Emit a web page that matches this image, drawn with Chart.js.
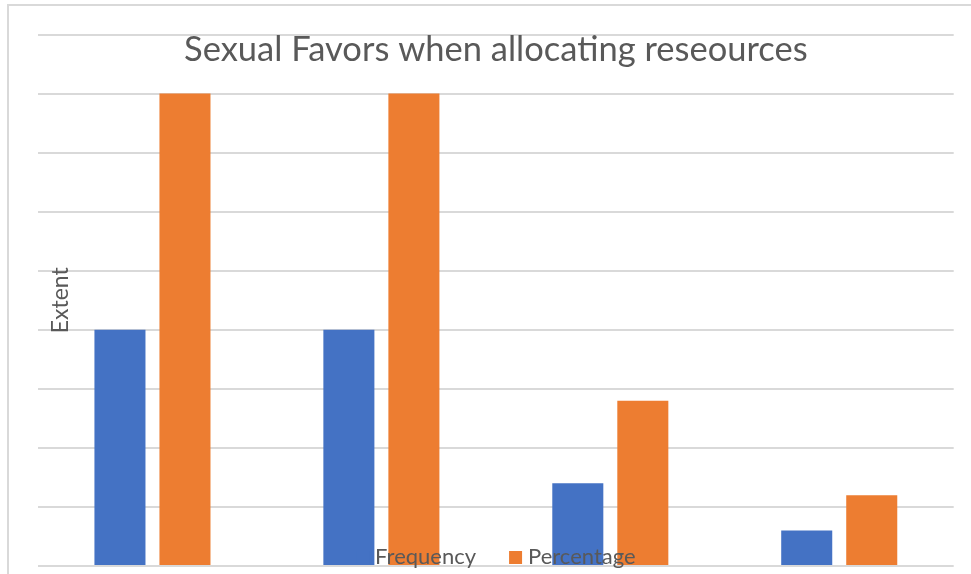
<!DOCTYPE html>
<html>
<head>
<meta charset="utf-8">
<title>Sexual Favors when allocating reseources</title>
<script src="https://cdn.jsdelivr.net/npm/chart.js@4.4.1/dist/chart.umd.min.js"></script>
<style>
  html, body { margin: 0; padding: 0; background: #fff; }
  #wrap { position: relative; width: 971px; height: 574px; overflow: hidden; }
  /* chart frame, only the top and left edges are in view */
  #frame { position: absolute; left: 7px; top: 4px; right: -20px; bottom: -20px;
           border-left: 2px solid #d9d9d9; border-top: 2px solid #d9d9d9; }
  #chart { position: absolute; left: 0; top: 0; }
</style>
</head>
<body>
<div id="wrap">
  <div id="frame"></div>
  <canvas id="chart" width="971" height="574"></canvas>
</div>
<script>
const chartTitle = 'Sexual Favors when allocating reseources';
const axisTitle = 'Extent';
const categories = ['1', '2', '3', '4'];
const frequency = [40, 40, 14, 6];
const percentage = [80, 80, 28, 12];
const yMax = 90;
const yStep = 10;

const textColor = '#595959';
const fontFamily = 'Lato, "Open Sans", sans-serif';

// title, axis title and legend sit on top of the plot, so they are painted by hand
const overlayText = {
  id: 'overlayText',
  afterDatasetsDraw(chart) {
    const ctx = chart.ctx;
    const area = chart.chartArea;
    const midX = (area.left + area.right) / 2;
    ctx.save();
    ctx.fillStyle = textColor;
    ctx.textBaseline = 'alphabetic';

    ctx.font = '34.5px ' + fontFamily;
    ctx.textAlign = 'center';
    ctx.fillText(chartTitle, midX, 61);

    ctx.save();
    ctx.translate(68, (area.top + area.bottom) / 2);
    ctx.rotate(-Math.PI / 2);
    ctx.font = '23px ' + fontFamily;
    ctx.fillText(axisTitle, 0, 0);
    ctx.restore();

    // legend
    ctx.font = '22px ' + fontFamily;
    ctx.textAlign = 'left';
    const box = 13, boxGap = 6, itemGap = 33;
    const items = chart.data.datasets.map(ds => ({
      label: ds.label, color: ds.backgroundColor, w: ctx.measureText(ds.label).width
    }));
    const total = items.reduce((s, it) => s + box + boxGap + it.w, 0) + itemGap * (items.length - 1);
    let x = midX - total / 2;
    items.forEach(it => {
      ctx.fillStyle = it.color;
      ctx.fillRect(x, 551, box, box);
      ctx.fillStyle = textColor;
      ctx.fillText(it.label, x + box + boxGap, 563.5);
      x += box + boxGap + it.w + itemGap;
    });
    ctx.restore();
  }
};

new Chart(document.getElementById('chart'), {
  type: 'bar',
  data: {
    labels: categories,
    datasets: [
      { label: 'Frequency', data: frequency, backgroundColor: '#4472C4' },
      { label: 'Percentage', data: percentage, backgroundColor: '#ED7D31' }
    ]
  },
  options: {
    responsive: false,
    animation: false,
    datasets: {
      bar: { categoryPercentage: 0.568, barPercentage: 0.785 }
    },
    layout: { padding: { left: 38, top: 34.5, right: 17.3, bottom: 8 } },
    scales: {
      x: { display: false },
      y: {
        min: 0,
        max: yMax,
        ticks: { display: false, stepSize: yStep },
        border: { display: false },
        grid: { color: '#d9d9d9', lineWidth: 2, drawTicks: false }
      }
    },
    plugins: {
      legend: { display: false },
      title: { display: false },
      tooltip: { enabled: false }
    }
  },
  plugins: [overlayText]
});
</script>
</body>
</html>
